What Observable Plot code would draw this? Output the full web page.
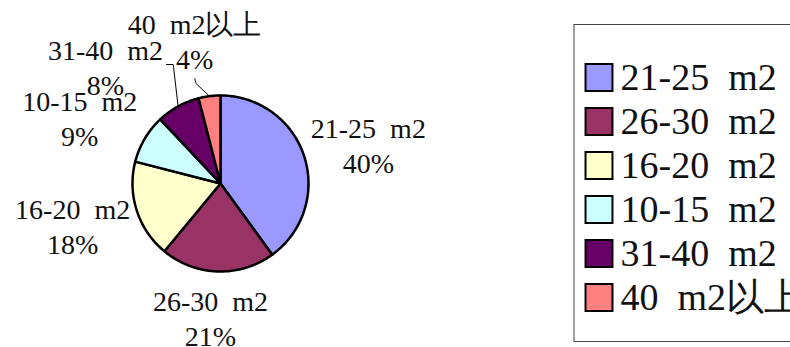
<!DOCTYPE html>
<html><head><meta charset="utf-8">
<script src="https://cdn.jsdelivr.net/npm/d3@7"></script>
<script src="https://cdn.jsdelivr.net/npm/@observablehq/plot@0.6"></script>
<style>
body{margin:0;background:#fff;}
#wrap{position:relative;width:790px;height:347px;overflow:hidden;background:#fff;}
#wrap svg{position:absolute;top:0;background:transparent;}
</style></head><body><div id="wrap"></div>
<script>
// ---- data ----
const categories = ["21-25 m2", "26-30 m2", "16-20 m2", "10-15 m2", "31-40 m2", "40 m2以上"];
const values = [40, 21, 18, 9, 8, 4];
const colors = ["#9999FF", "#993366", "#FFFFCC", "#CCFFFF", "#660066", "#FF8080"];

// ---- label layout (in pie-radius units, centre = 0,0) ----
const labelX = [1.68, -0.114, -1.68, -1.60, -1.307, -0.295];
const labelY = [0.44, -1.517, -0.477, 0.75, 1.335, 1.625];
// leader elbows for the two small slices
const leaderElbows = {
  "31-40 m2": [[-0.537, 1.352], [-0.614, 1.352]],
  "40 m2以上": [[-0.278, 1.136], [-0.292, 1.19]]
};

const FONT = "Liberation Serif";
const show = s => s.replace(" ", "\u2002");
const total = d3.sum(values);

const arcs = d3.pie().sort(null).value((d, i) => values[i])(categories);

// slice outlines in data space
const slicePts = [];
arcs.forEach((a, i) => {
  const cat = categories[i];
  slicePts.push({cat, x: 0, y: 0});
  const n = Math.max(2, Math.ceil((a.endAngle - a.startAngle) / (Math.PI / 180)));
  for (let k = 0; k <= n; k++) {
    const t = a.startAngle + (a.endAngle - a.startAngle) * k / n;
    slicePts.push({cat, x: Math.sin(t), y: Math.cos(t)});
  }
  slicePts.push({cat, x: 0, y: 0});
});

const labels = categories.map((c, i) => ({
  cat: c,
  x: labelX[i],
  y: labelY[i],
  text: show(c) + "\n" + Math.round(values[i] / total * 100) + "%"
}));

const leaderPts = [];
arcs.forEach((a, i) => {
  const cat = categories[i];
  if (!leaderElbows[cat]) return;
  const m = (a.startAngle + a.endAngle) / 2;
  leaderPts.push({cat, x: Math.sin(m), y: Math.cos(m)});
  leaderElbows[cat].forEach(([x, y]) => leaderPts.push({cat, x, y}));
});

const colorScale = {domain: categories, range: colors};

const pie = Plot.plot({
  width: 790, height: 347,
  margin: 0,
  x: {domain: [-1, 1], range: [132, 308], axis: null},
  y: {domain: [-1, 1], range: [271, 95], axis: null},
  color: colorScale,
  marks: [
    Plot.line(slicePts, {x: "x", y: "y", z: "cat", fill: "cat", stroke: "black", strokeWidth: 2.5, strokeLinejoin: "round", curve: "linear"}),
    Plot.line(leaderPts, {x: "x", y: "y", z: "cat", stroke: "black", strokeWidth: 1}),
    Plot.text(labels, {x: "x", y: "y", text: "text", fontSize: 28, lineHeight: 1.25, fill: "#111", fontFamily: FONT})
  ]
});
pie.style.left = "0px";

const legend = Plot.plot({
  width: 240, height: 347,
  marginTop: 24, marginBottom: 6, marginLeft: 0.5, marginRight: 0,
  y: {type: "point", domain: categories, range: [53.3, 320], axis: null},
  color: colorScale,
  marks: [
    Plot.frame({stroke: "#444", strokeWidth: 1}),
    Plot.dot(categories, {y: d => d, frameAnchor: "left", dx: 25, symbol: "square", r: 15.2, fill: d => d, stroke: "black", strokeWidth: 2}),
    Plot.text(categories, {y: d => d, text: show, frameAnchor: "left", textAnchor: "start", dx: 46.5, fontSize: 38, fill: "#111", fontFamily: FONT})
  ]
});
legend.style.left = "573px";

const wrap = document.getElementById("wrap");
wrap.appendChild(pie);
wrap.appendChild(legend);
</script>
</body></html>
